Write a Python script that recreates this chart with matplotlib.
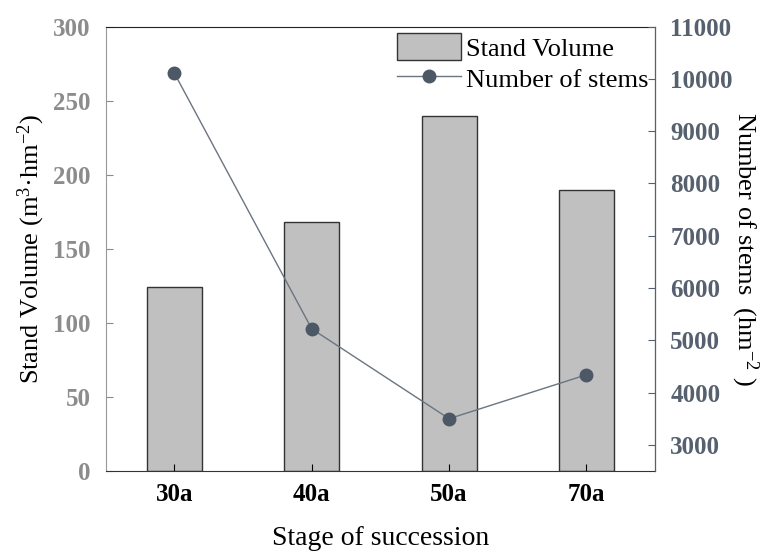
import numpy as np
from matplotlib import pyplot as plt

stages = ["30a", "40a", "50a", "70a"]
volume = [124, 168, 240, 190]
stems = [10110, 5220, 3500, 4340]

plt.rcParams['font.family'] = ['Liberation Serif', 'Noto Sans CJK SC']
plt.rcParams['mathtext.fontset'] = 'custom'
plt.rcParams['mathtext.rm'] = 'Liberation Serif'
plt.rcParams['mathtext.it'] = 'Liberation Serif:italic'

left_col = '#8c8c8c'
right_col = '#56606e'

fig = plt.figure(figsize=(7.69, 5.55), dpi=100)
ax = fig.add_axes([0.1375, 0.1514, 0.7143, 0.8005])
x = np.arange(len(stages))
bars = ax.bar(x, volume, width=0.4, color='#c0c0c0', edgecolor='#333333',
              linewidth=1.0, label='Stand Volume')
ax.set_xlim(-0.5, 3.5)
ax.set_ylim(0, 300)
ax.set_yticks(np.arange(0, 301, 50))
ax.set_xticks(x)
ax.set_xticklabels(stages, fontsize=18, fontweight='bold')
ax.tick_params(axis='y', direction='in', colors=left_col, labelsize=18,
               length=5, pad=11)
ax.tick_params(axis='x', direction='in', length=5, pad=9)
for t in ax.get_yticklabels():
    t.set_fontweight('bold')
ax.spines['left'].set_color('#999999')
ax.spines['top'].set_color('#222222')
ax.spines['bottom'].set_color('#333333')
ax.set_ylabel('Stand Volume (m$^{3}$·hm$^{-2}$)', fontsize=19, labelpad=4)
ax.set_xlabel('Stage of succession', fontsize=20, labelpad=14)

ax2 = ax.twinx()
line, = ax2.plot(x, stems, color='#6b7480', linewidth=1.0, marker='o',
                 markersize=9, markerfacecolor='#4d5866',
                 markeredgecolor='#4d5866', label='Number of stems')
ax2.set_ylim(2500, 11000)
ax2.set_yticks(np.arange(3000, 11001, 1000))
ax2.tick_params(axis='y', direction='in', colors=right_col, labelsize=18,
                length=5, pad=11)
for t in ax2.get_yticklabels():
    t.set_fontweight('bold')
ax2.spines['right'].set_color(right_col)
ax2.spines['left'].set_visible(False)
ax2.spines['top'].set_visible(False)
ax2.spines['bottom'].set_visible(False)
ax2.set_ylabel('Number of stems  (hm$^{-2}$ )', fontsize=19, rotation=-90,
               labelpad=20)

leg = ax2.legend([bars, line], ['Stand Volume', 'Number of stems'],
                 loc='upper right', bbox_to_anchor=(1.0, 1.0), fontsize=19,
                 frameon=False, handlelength=2.4, handleheight=1.2,
                 handletextpad=0.2, borderaxespad=0.0, borderpad=0.25,
                 labelspacing=0.15)

fig.savefig('out.png', dpi=100)
